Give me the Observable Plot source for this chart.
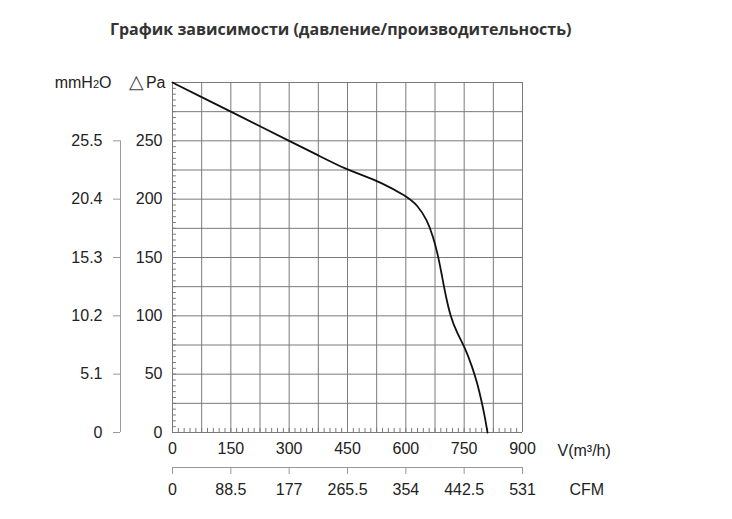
<!DOCTYPE html>
<html>
<head>
<meta charset="utf-8">
<script src="https://cdn.jsdelivr.net/npm/d3@7"></script>
<script src="https://cdn.jsdelivr.net/npm/@observablehq/plot@0.6"></script>
<style>
  body { margin: 0; background: #fff; }
  #title { height: 50px; box-sizing: border-box; padding: 18px 0 0 110px; font: bold 16px "Open Sans", sans-serif; line-height: 22px; color: #333; }
</style>
</head>
<body>
<div id="title">График зависимости (давление/производительность)</div>
<div id="chart"></div>
<script>
// Curve data
const flowM3h    = [0, 75, 150, 225, 300, 375, 450, 490, 535, 600, 630, 655, 670, 682, 692, 702, 715, 732, 752, 771, 784, 796, 804, 810];
const pressurePa = [300, 287.5, 275, 262.5, 250, 237.5, 225, 220.5, 214.5, 203, 195, 182, 168, 153, 136, 118, 99, 85, 73, 56, 42, 25, 12, 0];

// Axis ticks and labels
const xTicks = [0, 150, 300, 450, 600, 750, 900];
const cfmLabels = ["0", "88.5", "177", "265.5", "354", "442.5", "531"];
const yTicks = [0, 50, 100, 150, 200, 250];
const mmLabels = ["0", "5.1", "10.2", "15.3", "20.4", "25.5"];
const xGrid = d3.range(0, 901, 75);
const yGrid = d3.range(0, 301, 25);
const xMinor = d3.range(0, 901, 15);
const yMinor = d3.range(0, 301, 5);

const data = flowM3h.map((x, i) => ({x, y: pressurePa[i]}));
const ink = "#222";
const gridC = "#7a7a7a";

const plot = Plot.plot({
  width: 732,
  height: 469,
  marginLeft: 172,
  marginRight: 210,
  marginTop: 32,
  marginBottom: 87,
  style: { fontFamily: "'Liberation Sans', Arial, sans-serif", fontSize: "16px", color: ink, background: "#fff" },
  x: { domain: [0, 900], label: null },
  y: { domain: [0, 300], label: null },
  marks: [
    Plot.ruleX(xGrid, { stroke: gridC, strokeWidth: 1 }),
    Plot.ruleY(yGrid, { stroke: gridC, strokeWidth: 1 }),
    Plot.ruleY(yMinor, { x1: 0, x2: 10, stroke: gridC, strokeWidth: 1 }),
    Plot.ruleX(xMinor, { y1: 0, y2: 3.5, stroke: gridC, strokeWidth: 1 }),
    Plot.line(data, { x: "x", y: "y", curve: "basis", stroke: "#111", strokeWidth: 1.8 }),
    Plot.axisX({ ticks: xTicks, tickSize: 0, tickPadding: 10, fontSize: 16, label: null, tickFormat: d => String(d) }),
    Plot.axisY({ ticks: yTicks, tickSize: 0, tickPadding: 10, fontSize: 16, label: null, tickFormat: d => String(d) }),
    // mmH2O secondary axis
    Plot.ruleX([0], { y1: 0, y2: 250, dx: -52, stroke: "#999" }),
    Plot.ruleY(yTicks, { x1: -18, x2: 0, dx: -52, stroke: "#999" }),
    Plot.text(yTicks, { x: 0, y: d => d, text: (d, i) => mmLabels[i], textAnchor: "end", dx: -70, fontSize: 16, fill: ink }),
    Plot.text(["mmH2O"], { x: 0, y: 300, text: d => d, textAnchor: "end", dx: -61, fontSize: 16, fill: ink }),
    Plot.text(["△Pa"], { x: 0, y: 300, text: d => d, textAnchor: "end", dx: -7, fontSize: 16, fill: ink }),
    // CFM secondary axis
    Plot.ruleY([0], { x1: 0, x2: 900, dy: 35, stroke: "#999" }),
    Plot.ruleX(xTicks, { x: d => d, y1: 0, y2: -6, dy: 35, stroke: "#999" }),
    Plot.text(xTicks, { x: d => d, y: 0, text: (d, i) => cfmLabels[i], dy: 57, fontSize: 16, fill: ink }),
    Plot.text(["V(m³/h)"], { x: 900, y: 0, text: d => d, textAnchor: "start", dx: 35, dy: 18, fontSize: 16, fill: ink }),
    Plot.text(["CFM"], { x: 900, y: 0, text: d => d, textAnchor: "start", dx: 47, dy: 57, fontSize: 16, fill: ink })
  ]
});

// subscript 2 in mmH2O, larger delta glyph
d3.select(plot).selectAll("text").each(function() {
  const t = d3.select(this);
  if (this.textContent === "mmH2O") {
    t.text(null);
    t.append("tspan").text("mmH");
    t.append("tspan").attr("font-size", 11).text("2");
    t.append("tspan").text("O");
  } else if (this.textContent === "△Pa") {
    t.text(null);
    t.append("tspan").attr("font-size", 19).attr("fill", "#444").text("△");
    t.append("tspan").attr("dx", 2).text("Pa");
  }
});

document.getElementById("chart").appendChild(plot);
</script>
</body>
</html>
